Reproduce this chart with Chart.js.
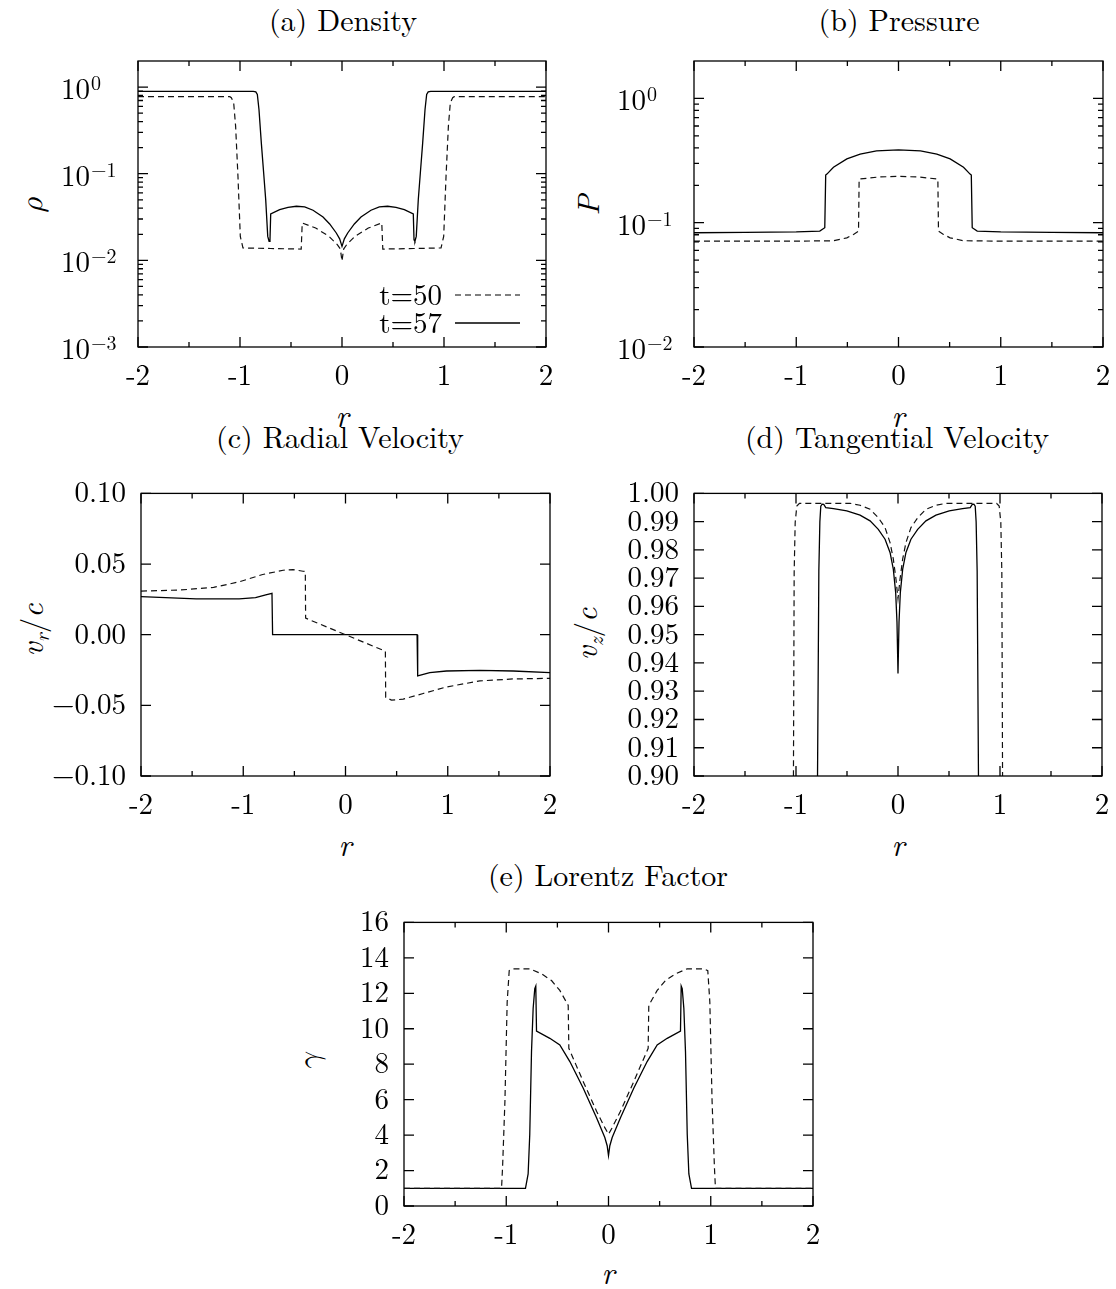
<!DOCTYPE html>
<html><head><meta charset="utf-8">
<script src="https://cdn.jsdelivr.net/npm/chart.js@4.4.1/dist/chart.umd.min.js"></script>
<style>
html,body{margin:0;padding:0;background:#fff;}
#wrap{position:relative;width:1116px;height:1289px;overflow:hidden;background:#fff;font-family:"Latin Modern Roman","Liberation Serif",serif;color:#000;}
canvas{position:absolute;}
.t{position:absolute;font-size:30px;line-height:30px;white-space:nowrap;transform:translateX(-50%);}
.xl{position:absolute;font-size:31px;line-height:30px;font-style:italic;transform:translateX(-50%);}
.yl{position:absolute;font-size:31px;line-height:31px;white-space:nowrap;transform:translate(-50%,-50%) rotate(-90deg);}
.yl i{font-style:italic;}
.yl .g{font-family:"Latin Modern Math","Latin Modern Roman","DejaVu Serif",serif;font-style:italic;}
.yl sub{font-size:21px;vertical-align:-6px;line-height:0;}
</style></head>
<body>
<div id="wrap">
  <div class="t" style="left:343px;top:4px">(a) Density</div>
  <div class="t" style="left:899px;top:4px">(b) Pressure</div>
  <div class="t" style="left:340px;top:421px">(c) Radial Velocity</div>
  <div class="t" style="left:897px;top:421px">(d) Tangential Velocity</div>
  <div class="t" style="left:608px;top:859px">(e) Lorentz Factor</div>

  <div class="xl" style="left:342px;top:399px">r</div>
  <div class="xl" style="left:898px;top:399px">r</div>
  <div class="xl" style="left:345px;top:828px">r</div>
  <div class="xl" style="left:898px;top:828px">r</div>
  <div class="xl" style="left:608px;top:1256px">r</div>

  <div class="yl" style="left:31px;top:205px"><span class="g">ρ</span></div>
  <div class="yl" style="left:586px;top:205px"><i>P</i></div>
  <div class="yl" style="left:30px;top:630px"><i>v</i><sub><i>r</i></sub>/<i>c</i></div>
  <div class="yl" style="left:584px;top:634px"><i>v</i><sub><i>z</i></sub>/<i>c</i></div>
  <div class="yl" style="left:308px;top:1062px"><span class="g">γ</span></div>
</div>
<script>
// ---------- axis ticks ----------
const xTickValues = [-2, -1, 0, 1, 2];
const xTickLabels = ['-2', '-1', '0', '1', '2'];
const xMinorTicks = [-1.5, -0.5, 0.5, 1.5];

const rhoTickValues = [0.001, 0.01, 0.1, 1];
const rhoTickExps = ['\u22123', '\u22122', '\u22121', '0'];
const presTickValues = [0.01, 0.1, 1];
const presTickExps = ['\u22122', '\u22121', '0'];
const logMantissas = [2, 3, 4, 5, 6, 7, 8, 9];

const vrTickValues = [-0.1, -0.05, 0, 0.05, 0.1];
const vrTickLabels = ['\u22120.10', '\u22120.05', '0.00', '0.05', '0.10'];
const vzTickValues = [0.90, 0.91, 0.92, 0.93, 0.94, 0.95, 0.96, 0.97, 0.98, 0.99, 1.00];
const vzTickLabels = ['0.90', '0.91', '0.92', '0.93', '0.94', '0.95', '0.96', '0.97', '0.98', '0.99', '1.00'];
const gTickValues = [0, 2, 4, 6, 8, 10, 12, 14, 16];
const gTickLabels = ['0', '2', '4', '6', '8', '10', '12', '14', '16'];

const legendLabels = ['t=50', 't=57'];

// ---------- (a) density ----------
const rhoR57 = [-2.0, -1.5, -1.0, -0.87, -0.845, -0.83, -0.814, -0.791, -0.768, -0.748, -0.728, -0.715, -0.706, -0.699, -0.611, -0.529, -0.447, -0.366, -0.284, -0.186, -0.121, -0.056, -0.023, 0.0,
                0.023, 0.056, 0.121, 0.186, 0.284, 0.366, 0.447, 0.529, 0.611, 0.699, 0.706, 0.715, 0.728, 0.748, 0.768, 0.791, 0.814, 0.83, 0.845, 0.87, 1.0, 1.5, 2.0];
const rho57 = [0.89, 0.89, 0.89, 0.89, 0.88, 0.82, 0.552, 0.227, 0.102, 0.0503, 0.0189, 0.0166, 0.0173, 0.0343, 0.0385, 0.0410, 0.0421, 0.0414, 0.0379, 0.0317, 0.0263, 0.0207, 0.0177, 0.0145,
               0.0177, 0.0207, 0.0263, 0.0317, 0.0379, 0.0414, 0.0421, 0.0410, 0.0385, 0.0343, 0.0173, 0.0166, 0.0189, 0.0503, 0.102, 0.227, 0.552, 0.82, 0.88, 0.89, 0.89, 0.89, 0.89];
const rhoR50 = [-2.0, -1.5, -1.1, -1.085, -1.062, -1.043, -1.020, -0.997, -0.971, -0.7, -0.40, -0.39, -0.258, -0.127, -0.046, -0.016, 0.0,
                0.016, 0.046, 0.127, 0.258, 0.39, 0.40, 0.7, 0.971, 0.997, 1.020, 1.043, 1.062, 1.085, 1.1, 1.5, 2.0];
const rho50 = [0.775, 0.775, 0.775, 0.753, 0.659, 0.354, 0.0936, 0.0189, 0.0139, 0.0137, 0.0135, 0.0270, 0.0236, 0.0189, 0.0152, 0.0135, 0.0098,
               0.0135, 0.0152, 0.0189, 0.0236, 0.0270, 0.0135, 0.0137, 0.0139, 0.0189, 0.0936, 0.354, 0.659, 0.753, 0.775, 0.775, 0.775];

// ---------- (b) pressure ----------
const pR57 = [-2.0, -1.5, -1.0, -0.77, -0.721, -0.712, -0.70, -0.636, -0.505, -0.375, -0.215, 0.0, 0.215, 0.375, 0.505, 0.636, 0.70, 0.712, 0.721, 0.77, 1.0, 1.5, 2.0];
const p57 = [0.0830, 0.0836, 0.0843, 0.0856, 0.0911, 0.2415, 0.246, 0.279, 0.326, 0.357, 0.378, 0.386, 0.378, 0.357, 0.326, 0.279, 0.246, 0.2415, 0.0911, 0.0856, 0.0843, 0.0836, 0.0830];
const pR50 = [-2.0, -1.0, -0.636, -0.505, -0.440, -0.391, -0.385, -0.2, 0.0, 0.2, 0.385, 0.391, 0.440, 0.505, 0.636, 1.0, 2.0];
const p50 = [0.0711, 0.0711, 0.0716, 0.0756, 0.0805, 0.0856, 0.2245, 0.233, 0.236, 0.233, 0.2245, 0.0856, 0.0805, 0.0756, 0.0716, 0.0711, 0.0711];

// ---------- (c) radial velocity ----------
const vrR57 = [-2.0, -1.46, -1.04, -0.88, -0.78, -0.719, -0.713, 0.70, 0.706, 0.824, 0.987, 1.314, 1.64, 2.0];
const vr57 = [0.0269, 0.0253, 0.0253, 0.0262, 0.0281, 0.0292, 0.0, 0.0, -0.0292, -0.0269, -0.0257, -0.0253, -0.0257, -0.0269];
const vrR50 = [-2.0, -1.62, -1.29, -1.04, -0.81, -0.61, -0.513, -0.415, -0.393, -0.39, 0.39, 0.393, 0.45, 0.564, 0.76, 0.987, 1.314, 1.64, 2.0];
const vr50 = [0.0309, 0.0316, 0.0335, 0.0374, 0.0426, 0.0456, 0.0461, 0.0449, 0.0447, 0.0117, -0.0117, -0.0444, -0.0463, -0.0456, -0.0416, -0.0370, -0.0327, -0.0313, -0.0309];

// ---------- (d) tangential velocity ----------
const vzR57 = [-2.0, -0.82, -0.80, -0.789, -0.776, -0.766, -0.757, -0.744, -0.728, -0.708, -0.633, -0.502, -0.372, -0.274, -0.193, -0.127, -0.078, -0.046, -0.023, -0.010, 0.0,
               0.010, 0.023, 0.046, 0.078, 0.127, 0.193, 0.274, 0.372, 0.502, 0.633, 0.708, 0.728, 0.744, 0.757, 0.766, 0.776, 0.789, 0.80, 0.82, 2.0];
const vz57 = [0.0, 0.0, 0.6, 0.90, 0.9725, 0.990, 0.9955, 0.9962, 0.9961, 0.9950, 0.9946, 0.9938, 0.9923, 0.9903, 0.9873, 0.9838, 0.9791, 0.9732, 0.965, 0.9545, 0.9363,
              0.9545, 0.965, 0.9732, 0.9791, 0.9838, 0.9873, 0.9903, 0.9923, 0.9938, 0.9946, 0.9950, 0.9961, 0.9962, 0.9955, 0.990, 0.9725, 0.90, 0.6, 0.0, 0.0];
const vzR50 = [-2.0, -1.05, -1.025, -1.018, -1.008, -0.992, -0.966, -0.47, -0.372, -0.274, -0.193, -0.127, -0.078, -0.046, -0.020, 0.0,
               0.020, 0.046, 0.078, 0.127, 0.193, 0.274, 0.372, 0.47, 0.966, 0.992, 1.008, 1.018, 1.025, 1.05, 2.0];
const vz50 = [0.0, 0.0, 0.90, 0.972, 0.9897, 0.9955, 0.9965, 0.9965, 0.9958, 0.9944, 0.9914, 0.9879, 0.9826, 0.9768, 0.9697, 0.9627,
              0.9697, 0.9768, 0.9826, 0.9879, 0.9914, 0.9944, 0.9958, 0.9965, 0.9965, 0.9955, 0.9897, 0.972, 0.90, 0.0, 0.0];

// ---------- (e) Lorentz factor ----------
const gR57 = [-2.0, -0.812, -0.786, -0.77, -0.753, -0.737, -0.721, -0.711, -0.704, -0.574, -0.476, -0.378, -0.248, -0.117, -0.036, -0.013, 0.0,
              0.013, 0.036, 0.117, 0.248, 0.378, 0.476, 0.574, 0.704, 0.711, 0.721, 0.737, 0.753, 0.77, 0.786, 0.812, 2.0];
const g57 = [1.0, 1.0, 1.81, 4.05, 8.71, 11.14, 12.26, 12.41, 9.87, 9.46, 9.09, 8.15, 6.66, 4.98, 3.86, 3.40, 2.84,
             3.40, 3.86, 4.98, 6.66, 8.15, 9.09, 9.46, 9.87, 12.41, 12.26, 11.14, 8.71, 4.05, 1.81, 1.0, 1.0];
const gR50 = [-2.0, -1.046, -1.036, -1.013, -0.991, -0.971, -0.932, -0.769, -0.655, -0.557, -0.476, -0.394, -0.388, -0.248, -0.117, -0.036, 0.0,
              0.036, 0.117, 0.248, 0.388, 0.394, 0.476, 0.557, 0.655, 0.769, 0.932, 0.971, 0.991, 1.013, 1.036, 1.046, 2.0];
const g50 = [1.0, 1.0, 2.18, 5.91, 11.51, 13.28, 13.38, 13.38, 13.10, 12.72, 12.16, 11.32, 8.90, 7.03, 5.35, 4.42, 4.05,
             4.42, 5.35, 7.03, 8.90, 11.32, 12.16, 12.72, 13.10, 13.38, 13.38, 13.28, 11.51, 5.91, 2.18, 1.0, 1.0];

// ---------- drawing ----------
const FONT = '"Latin Modern Roman", "Liberation Serif", serif';
const wrap = document.getElementById('wrap');

function pts(rs, vs) { return rs.map((r, i) => ({ x: r, y: vs[i] })); }

function logMinor(decades, max) {
  const out = [];
  decades.forEach(d => logMantissas.forEach(m => { if (m * d < max) out.push(m * d); }));
  return out;
}

function framePlugin(cfg) {
  return {
    id: 'frame' + cfg.id,
    afterDraw(chart) {
      const ctx = chart.ctx, a = chart.chartArea, xs = chart.scales.x, ys = chart.scales.y;
      ctx.save();
      ctx.strokeStyle = '#000';
      ctx.lineWidth = 1.3;
      ctx.setLineDash([]);
      ctx.beginPath();
      const vt = (px, len) => { ctx.moveTo(px, a.bottom); ctx.lineTo(px, a.bottom - len); ctx.moveTo(px, a.top); ctx.lineTo(px, a.top + len); };
      const ht = (py, len) => { ctx.moveTo(a.left, py); ctx.lineTo(a.left + len, py); ctx.moveTo(a.right, py); ctx.lineTo(a.right - len, py); };
      xTickValues.forEach(v => vt(xs.getPixelForValue(v), 10));
      xMinorTicks.forEach(v => vt(xs.getPixelForValue(v), 5));
      cfg.yMajor.forEach(v => ht(ys.getPixelForValue(v), 10));
      (cfg.yMinor || []).forEach(v => ht(ys.getPixelForValue(v), 5));
      ctx.stroke();
      ctx.strokeRect(a.left, a.top, a.right - a.left, a.bottom - a.top);
      ctx.fillStyle = '#000';
      if (cfg.exps) {
        ctx.textAlign = 'left';
        ctx.textBaseline = 'alphabetic';
        cfg.yMajor.forEach((v, i) => {
          const py = ys.getPixelForValue(v);
          const x0 = a.left - 77;
          ctx.font = '29px ' + FONT;
          ctx.fillText('10', x0, py + 12);
          const w = ctx.measureText('10').width;
          ctx.font = '20px ' + FONT;
          ctx.fillText(cfg.exps[i], x0 + w + 1, py + 3);
        });
      }
      if (cfg.legend) {
        ctx.font = '29px ' + FONT;
        ctx.textAlign = 'right';
        ctx.textBaseline = 'alphabetic';
        const rows = [{ base: a.bottom - 42, line: a.bottom - 52, dash: [6, 4], w: 1.2 },
                      { base: a.bottom - 14, line: a.bottom - 24, dash: [], w: 1.3 }];
        rows.forEach((rw, i) => {
          ctx.fillText(legendLabels[i], a.right - 104, rw.base);
          ctx.beginPath();
          ctx.setLineDash(rw.dash);
          ctx.lineWidth = rw.w;
          ctx.moveTo(a.right - 91, rw.line);
          ctx.lineTo(a.right - 26, rw.line);
          ctx.stroke();
        });
      }
      ctx.restore();
    }
  };
}

function makePanel(cfg) {
  const A = cfg.area;
  const W = A.r - A.l + 130, H = A.b - A.t + 90;
  const cv = document.createElement('canvas');
  cv.width = W; cv.height = H;
  cv.style.left = (A.l - 100) + 'px';
  cv.style.top = (A.t - 30) + 'px';
  cv.style.width = W + 'px';
  cv.style.height = H + 'px';
  wrap.appendChild(cv);
  const yScale = {
    type: cfg.log ? 'logarithmic' : 'linear',
    min: cfg.min, max: cfg.max,
    grid: { display: false, drawTicks: false },
    border: { display: false },
    ticks: {
      display: !cfg.log,
      font: { family: FONT, size: 29 },
      color: '#000',
      padding: 15,
      autoSkip: false,
      callback: (v, i) => cfg.yLabels ? cfg.yLabels[i] : ''
    },
    afterBuildTicks: s => { s.ticks = cfg.yMajor.map(v => ({ value: v })); },
    afterFit: s => { s.width = 100; }
  };
  new Chart(cv, {
    type: 'line',
    data: {
      datasets: [
        { data: pts(cfg.r50, cfg.v50), borderColor: '#111', borderWidth: 1.2, borderDash: [6, 4], pointRadius: 0, tension: 0, fill: false },
        { data: pts(cfg.r57, cfg.v57), borderColor: '#000', borderWidth: 1.3, pointRadius: 0, tension: 0, fill: false }
      ]
    },
    options: {
      responsive: false,
      animation: false,
      devicePixelRatio: 1,
      events: [],
      layout: { padding: { top: 30, right: 30, left: 0, bottom: 0 } },
      plugins: { legend: { display: false }, tooltip: { enabled: false }, title: { display: false } },
      scales: {
        x: {
          type: 'linear', min: -2, max: 2,
          grid: { display: false, drawTicks: false },
          border: { display: false },
          ticks: {
            font: { family: FONT, size: 29 },
            color: '#000',
            padding: 12,
            maxRotation: 0,
            autoSkip: false,
            callback: (v, i) => xTickLabels[i]
          },
          afterBuildTicks: s => { s.ticks = xTickValues.map(v => ({ value: v })); },
          afterFit: s => { s.height = 60; }
        },
        y: yScale
      }
    },
    plugins: [framePlugin(cfg)]
  });
}

makePanel({ id: 'a', area: { l: 138, t: 61, r: 546, b: 347 }, log: true, min: 0.001, max: 2,
  yMajor: rhoTickValues, exps: rhoTickExps, yMinor: logMinor(rhoTickValues, 2), legend: true,
  r50: rhoR50, v50: rho50, r57: rhoR57, v57: rho57 });
makePanel({ id: 'b', area: { l: 694, t: 61, r: 1103, b: 347 }, log: true, min: 0.01, max: 2,
  yMajor: presTickValues, exps: presTickExps, yMinor: logMinor(presTickValues, 2),
  r50: pR50, v50: p50, r57: pR57, v57: p57 });
makePanel({ id: 'c', area: { l: 141, t: 491, r: 550, b: 776 }, min: -0.1, max: 0.1,
  yMajor: vrTickValues, yLabels: vrTickLabels,
  r50: vrR50, v50: vr50, r57: vrR57, v57: vr57 });
makePanel({ id: 'd', area: { l: 694, t: 491, r: 1102, b: 776 }, min: 0.9, max: 1.0,
  yMajor: vzTickValues, yLabels: vzTickLabels,
  r50: vzR50, v50: vz50, r57: vzR57, v57: vz57 });
makePanel({ id: 'e', area: { l: 404, t: 920, r: 813, b: 1206 }, min: 0, max: 16,
  yMajor: gTickValues, yLabels: gTickLabels,
  r50: gR50, v50: g50, r57: gR57, v57: g57 });
</script>
</body></html>
